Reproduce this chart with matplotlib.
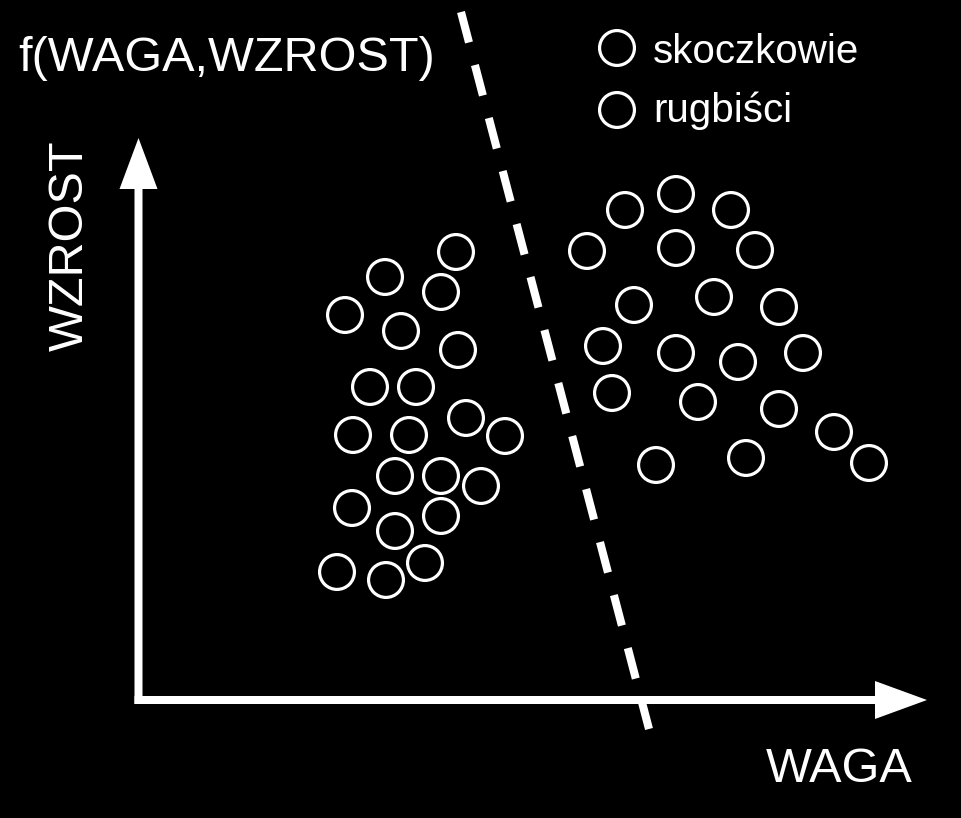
import matplotlib
matplotlib.use("Agg")
import matplotlib.pyplot as plt

# Data (in picture units: x = WAGA, y = WZROST, pixel-like coordinates)
skoczkowie_x = [456, 385, 441, 345, 401, 458, 370, 416, 466, 353, 409, 505, 395, 441, 481, 352, 441, 395, 337, 386, 425]
skoczkowie_y = [252, 277, 292, 315, 331, 350, 387, 387, 418, 435, 435, 436, 476, 476, 486, 508, 516, 531, 572, 580, 563]
rugbisci_x = [625, 676, 731, 587, 676, 755, 634, 714, 779, 603, 676, 738, 803, 612, 698, 779, 834, 869, 656, 746]
rugbisci_y = [210, 194, 210, 251, 248, 250, 305, 297, 307, 346, 353, 362, 353, 393, 402, 409, 432, 463, 465, 458]
boundary_x = [461, 649]
boundary_y = [12, 729]
legend_labels = ["skoczkowie", "rugbiści"]
title_text = "f(WAGA,WZROST)"
xlabel_text = "WAGA"
ylabel_text = "WZROST"

plt.rcParams['font.family'] = ['Liberation Sans', 'DejaVu Sans']

fig = plt.figure(figsize=(9.62, 8.18), dpi=100, facecolor='black')
ax = fig.add_axes([0, 0, 1, 1])
ax.set_facecolor('black')
ax.set_xlim(0, 962)
ax.set_ylim(818, 0)
ax.axis('off')

ms = 630
lw = 2.3
ax.scatter(skoczkowie_x, skoczkowie_y, s=ms, facecolors='none', edgecolors='white', linewidths=lw, zorder=3)
ax.scatter(rugbisci_x, rugbisci_y, s=ms, facecolors='none', edgecolors='white', linewidths=lw, zorder=3)

# axes arrows
ax.arrow(138.5, 704, 0, -566, width=8, head_width=38, head_length=51,
         length_includes_head=True, color='white', lw=0, zorder=2)
ax.arrow(134.5, 700, 792.5, 0, width=8, head_width=38, head_length=52,
         length_includes_head=True, color='white', lw=0, zorder=2)

# dashed boundary
line, = ax.plot(boundary_x, boundary_y, color='white', lw=5.8, solid_capstyle='butt',
                dash_capstyle='butt', zorder=2)
line.set_dashes((31.5 * 0.72 / 5.8, 23.3 * 0.72 / 5.8))

# texts
ax.text(18, 71, title_text, color='white', fontsize=35, ha='left', va='baseline')
ax.text(766, 782, xlabel_text, color='white', fontsize=35, ha='left', va='baseline')
ax.text(70, 246, ylabel_text, color='white', fontsize=35, ha='center', va='center', rotation=90)

# legend
leg_y = [48, 110]
leg_text_y = [63, 122]
ax.scatter([617, 617], leg_y, s=ms, facecolors='none', edgecolors='white', linewidths=lw, zorder=3)
for lab, yy in zip(legend_labels, leg_text_y):
    ax.text(653, yy, lab, color='white', fontsize=29, ha='left', va='baseline')

fig.savefig('out.png', dpi=100, facecolor='black')
